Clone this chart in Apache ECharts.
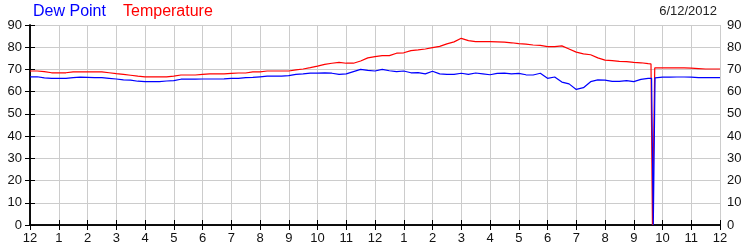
<!DOCTYPE html>
<html>
<head>
<meta charset="utf-8">
<script src="https://cdn.jsdelivr.net/npm/echarts@6/dist/echarts.min.js"></script>
<style>
html,body{margin:0;padding:0;background:#fff;}
#chart{width:750px;height:250px;}
</style>
</head>
<body>
<div id="chart"></div>
<script>
// Hours since midnight (15-minute steps) plus the sensor drop-out near 9:40 PM
const hours = [0,0.25,0.5,0.75,1,1.25,1.5,1.75,2,2.25,2.5,2.75,3,3.25,3.5,3.75,4,4.25,4.5,4.75,5,5.25,5.5,5.75,6,6.25,6.5,6.75,7,7.25,7.5,7.75,8,8.25,8.5,8.75,9,9.25,9.5,9.75,10,10.25,10.5,10.75,11,11.25,11.5,11.75,12,12.25,12.5,12.75,13,13.25,13.5,13.75,14,14.25,14.5,14.75,15,15.25,15.5,15.75,16,16.25,16.5,16.75,17,17.25,17.5,17.75,18,18.25,18.5,18.75,19,19.25,19.5,19.75,20,20.25,20.5,20.75,21,21.25,21.5,21.6,21.65,21.73,21.75,22,22.25,22.5,22.75,23,23.25,23.5,23.75,24];

const temperature = [69.3,69.3,69.0,68.5,68.5,68.5,68.9,68.9,68.9,68.9,68.9,68.5,68.1,67.8,67.4,67.0,66.7,66.7,66.7,66.7,67.0,67.5,67.5,67.5,67.8,68.0,68.0,68.0,68.2,68.4,68.4,68.9,68.9,69.3,69.3,69.3,69.3,69.8,70.2,70.8,71.5,72.3,72.8,73.2,72.8,72.8,73.8,75.2,75.8,76.2,76.2,77.3,77.5,78.5,78.8,79.2,79.8,80.4,81.5,82.4,84.0,83.0,82.5,82.5,82.5,82.4,82.3,82.0,81.6,81.4,81.0,80.8,80.3,80.3,80.6,79.2,77.8,77.0,76.6,75.2,74.2,74.0,73.6,73.5,73.2,73.0,72.6,72.5,0,70.7,70.7,70.7,70.7,70.7,70.7,70.6,70.4,70.2,70.2,70.2];

const dewPointHours = [0,0.25,0.5,0.75,1,1.25,1.5,1.75,2,2.25,2.5,2.75,3,3.25,3.5,3.75,4,4.25,4.5,4.75,5,5.25,5.5,5.75,6,6.25,6.5,6.75,7,7.25,7.5,7.75,8,8.25,8.5,8.75,9,9.25,9.5,9.75,10,10.25,10.5,10.75,11,11.25,11.5,11.75,12,12.25,12.5,12.75,13,13.25,13.5,13.75,14,14.25,14.5,14.75,15,15.25,15.5,15.75,16,16.25,16.5,16.75,17,17.25,17.5,17.75,18,18.25,18.5,18.75,19,19.25,19.5,19.75,20,20.25,20.5,20.75,21,21.25,21.5,21.62,21.68,21.74,21.75,22,22.25,22.5,22.75,23,23.25,23.5,23.75,24];

const dewPoint = [66.7,66.7,66.2,66.0,66.0,66.0,66.3,66.5,66.4,66.3,66.3,66.0,65.7,65.3,65.2,64.7,64.5,64.5,64.5,64.8,65.0,65.6,65.6,65.6,65.7,65.7,65.7,65.8,66.0,66.0,66.3,66.4,66.7,67.0,67.0,67.0,67.2,67.8,68.0,68.3,68.3,68.5,68.3,67.8,68.0,69.0,70.0,69.6,69.3,70.0,69.4,69.0,69.3,68.5,68.6,68.0,69.2,68.0,67.8,67.8,68.3,67.8,68.4,68.0,67.6,68.2,68.3,68.0,68.2,67.6,67.5,68.3,66.0,66.6,64.3,63.5,61.0,61.8,64.5,65.3,65.2,64.6,64.6,65.0,64.5,65.5,66.0,66.0,0,66.2,66.3,66.5,66.5,66.6,66.6,66.5,66.3,66.3,66.3,66.3];

const hourTicks = [0,1,2,3,4,5,6,7,8,9,10,11,12,13,14,15,16,17,18,19,20,21,22,23,24];
const hourLabels = ['12','1','2','3','4','5','6','7','8','9','10','11','12','1','2','3','4','5','6','7','8','9','10','11','12'];
const dateText = '6/12/2012';

const chart = echarts.init(document.getElementById('chart'), null, {renderer:'canvas'});
const font = 'Liberation Sans, Arial, sans-serif';
const labelStyle = {color:'#111', fontFamily:font, fontSize:13};
const pair = (xs, ys) => xs.map((x,i)=>[x, ys[i]]);

chart.setOption({
  animation:false,
  backgroundColor:'#fff',
  grid:{left:30, right:30, top:25, bottom:25, containLabel:false},
  graphic:[
    {type:'text', left:33, top:4, style:{text:'Dew Point', fill:'#0000ff', font:'16px '+font}},
    {type:'text', left:123, top:4, style:{text:'Temperature', fill:'#ff0000', font:'16px '+font}},
    {type:'text', right:33, top:5, style:{text:dateText, fill:'#222', font:'13px '+font}}
  ],
  xAxis:[
    {type:'value', min:0, max:24, interval:1, position:'bottom',
     axisLine:{lineStyle:{color:'#000', width:1.5}},
     axisTick:{inside:true, length:5, lineStyle:{color:'#000'}},
     axisLabel:{...labelStyle, margin:7, formatter:(v)=>hourLabels[hourTicks.indexOf(v)]},
     splitLine:{show:true, lineStyle:{color:'#cccccc', width:1}}},
    {type:'value', min:0, max:24, interval:1, position:'top',
     axisLine:{lineStyle:{color:'#000', width:1.5}},
     axisTick:{inside:true, length:5, lineStyle:{color:'#000'}},
     axisLabel:{show:false}, splitLine:{show:false}}
  ],
  yAxis:[
    {type:'value', min:0, max:90, interval:10, position:'left',
     axisLine:{show:true, lineStyle:{color:'#000', width:1.5}},
     axisTick:{show:true, length:5, lineStyle:{color:'#000'}},
     axisLabel:{...labelStyle, margin:8},
     splitLine:{show:true, lineStyle:{color:'#cccccc', width:1}}},
    {type:'value', min:0, max:90, interval:10, position:'right',
     axisLine:{show:true, lineStyle:{color:'#000', width:1.5}},
     axisTick:{show:true, length:5, lineStyle:{color:'#000'}},
     axisLabel:{...labelStyle, margin:7},
     splitLine:{show:false}}
  ],
  series:[
    {name:'Dew Point', type:'line', xAxisIndex:0, yAxisIndex:0, data:pair(dewPointHours, dewPoint),
     showSymbol:false, lineStyle:{color:'#0000ff', width:1.2}, itemStyle:{color:'#0000ff'}, z:3},
    {name:'Temperature', type:'line', xAxisIndex:0, yAxisIndex:0, data:pair(hours, temperature),
     showSymbol:false, lineStyle:{color:'#ff0000', width:1.2}, itemStyle:{color:'#ff0000'}, z:2}
  ]
});
</script>
</body>
</html>
